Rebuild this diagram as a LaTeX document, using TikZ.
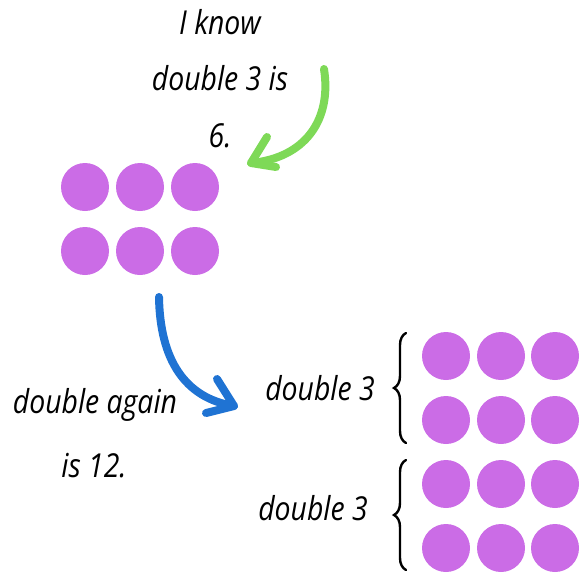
\documentclass[tikz,border=0pt]{standalone}
\usepackage{fontspec}
\newfontfamily\handfont[FakeStretch=0.86]{Open Sans}
\usetikzlibrary{decorations.pathreplacing}
\definecolor{dotpurple}{HTML}{CB6CE6}
\definecolor{arrgreen}{HTML}{7ED957}
\definecolor{arrblue}{HTML}{1F73D3}
\tikzset{
  dot/.style={circle,fill=dotpurple,minimum size=48pt,inner sep=0pt},
  hand/.style={font=\handfont\itshape\fontsize{33}{38}\selectfont,inner sep=0pt,anchor=base,text=black},
  fatarrow/.style={line width=8pt,line cap=round,line join=round},
  bracestyle/.style={decorate,decoration={brace,amplitude=12pt,aspect=0.5},line width=2.4pt,line cap=round}
}
\begin{document}
\begin{tikzpicture}[x=1pt,y=-1pt]
\useasboundingbox (0,0) rectangle (581,574);
% texts
\node[hand] (t1) at (220,34) {I know};
\node[hand] (t2) at (220,90) {double 3 is};
\node[hand] (t3) at (220,147) {6.};
\node[hand] (t4) at (95,413) {double again};
\node[hand] (t5) at (94,477) {is 12.};
\node[hand] (t6) at (320,400) {double 3};
\node[hand] (t7) at (313,520) {double 3};
% top dots
\foreach \c [count=\i] in {85,140,195}{
  \node[dot] (a\i) at (\c,187) {};
  \node[dot] (b\i) at (\c,251) {};
}
% right dots
\foreach \c [count=\i] in {446,501,555}{
  \node[dot] (c\i) at (\c,356) {};
  \node[dot] (d\i) at (\c,420) {};
  \node[dot] (e\i) at (\c,484) {};
  \node[dot] (f\i) at (\c,548) {};
}
% braces
\coordinate (br1b) at (406,443);
\coordinate (br1t) at (406,333);
\coordinate (br2b) at (406,570);
\coordinate (br2t) at (406,460);
\draw[bracestyle] (br1b) -- (br1t);
\draw[bracestyle] (br2b) -- (br2t);
% green arrow
\coordinate (gs) at (324,69);
\coordinate (gt) at (251,163);
\coordinate (ga1) at (267,137);
\coordinate (ga2) at (276,167);
\draw[arrgreen,fatarrow] (gs) .. controls (332,120) and (305,158) .. (gt);
\draw[arrgreen,fatarrow] (ga1) -- (gt) -- (ga2);
% blue arrow
\coordinate (bs) at (159,297);
\coordinate (bt) at (234,406);
\coordinate (ba1) at (217,379);
\coordinate (ba2) at (206,413);
\draw[arrblue,fatarrow] (bs) .. controls (160,360) and (185,398) .. (bt);
\draw[arrblue,fatarrow] (ba1) -- (bt) -- (ba2);
\end{tikzpicture}
\end{document}
